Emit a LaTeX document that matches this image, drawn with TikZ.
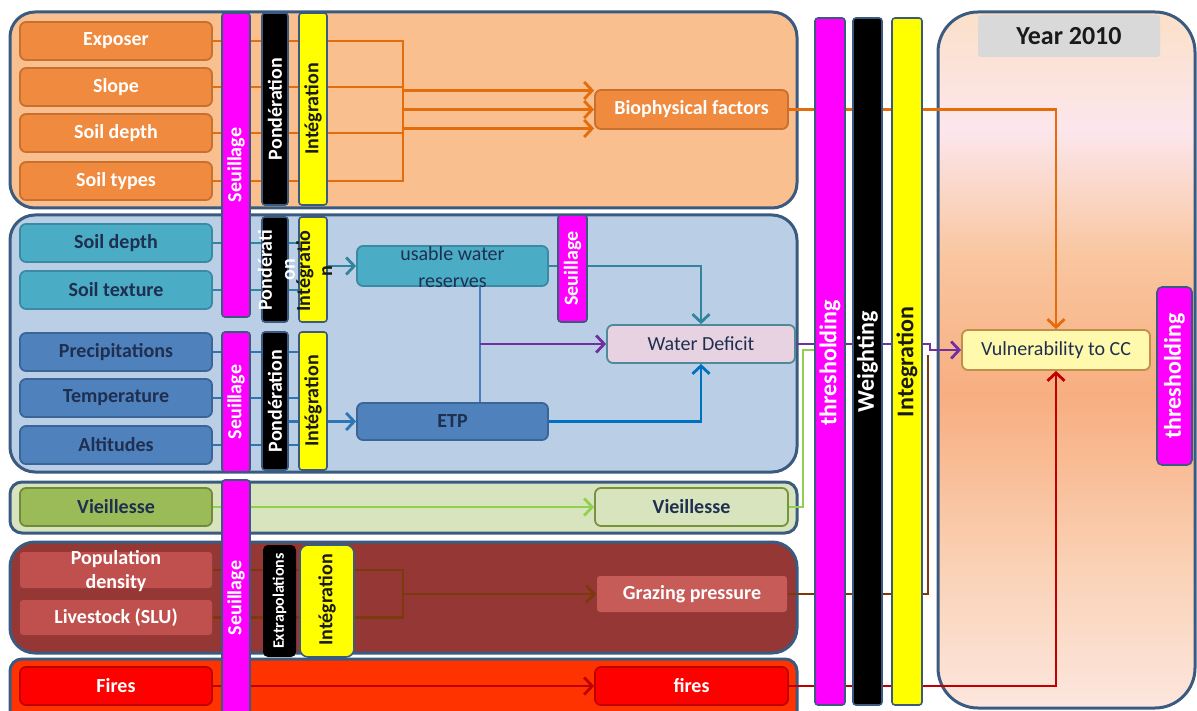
\documentclass[tikz,border=0pt]{standalone}
\usepackage{fontspec}
\setmainfont{Carlito}
\usetikzlibrary{arrows.meta,calc}
\definecolor{pborder}{HTML}{3B5A80}
\definecolor{panOr}{HTML}{F9BF8F}
\definecolor{panBl}{HTML}{BACFE6}
\definecolor{panGr}{HTML}{D7E4BD}
\definecolor{panRd}{HTML}{953735}
\definecolor{panFi}{HTML}{FF3300}
\definecolor{boxOr}{HTML}{F08A3E}
\definecolor{brdOr}{HTML}{C8702E}
\definecolor{boxTe}{HTML}{4BACC6}
\definecolor{brdTe}{HTML}{3A8AA3}
\definecolor{boxBl}{HTML}{4F81BD}
\definecolor{brdBl}{HTML}{3A6596}
\definecolor{boxGr}{HTML}{9BBB59}
\definecolor{brdGr}{HTML}{6F8B3A}
\definecolor{brdGrB}{HTML}{77933C}
\definecolor{boxRd}{HTML}{C0504D}
\definecolor{boxGz}{HTML}{C65B58}
\definecolor{boxFi}{HTML}{FF0000}
\definecolor{brdFi}{HTML}{C00000}
\definecolor{boxWd}{HTML}{E6D2E0}
\definecolor{brdWd}{HTML}{4E8A99}
\definecolor{boxVu}{HTML}{FFF9AE}
\definecolor{brdVu}{HTML}{C0904A}
\definecolor{boxYr}{HTML}{D9D9D9}
\definecolor{txDk}{HTML}{1F2F4F}
\definecolor{txBk}{HTML}{1A1A1A}
\definecolor{mag}{HTML}{FF00FF}
\definecolor{yel}{HTML}{FFFF00}
\definecolor{cOr}{HTML}{E46C0A}
\definecolor{cTe}{HTML}{31859C}
\definecolor{cBl}{HTML}{2E75B6}
\definecolor{cSt}{HTML}{4A7EBB}
\definecolor{cPu}{HTML}{7030A0}
\definecolor{cBb}{HTML}{0070C0}
\definecolor{cGr}{HTML}{92D050}
\definecolor{cBr}{HTML}{7A3A0E}
\definecolor{cRd}{HTML}{C00000}
\definecolor{ysA}{HTML}{FCE6DE}
\definecolor{ysB}{HTML}{FAD2B6}
\definecolor{ysC}{HTML}{F8AE80}
\definecolor{ysD}{HTML}{F9C6A0}
\definecolor{ysE}{HTML}{FCE6EC}
\definecolor{ysF}{HTML}{FBE0C8}
\pgfdeclareverticalshading{yearsh}{100bp}{color(0bp)=(ysA); color(25bp)=(ysA); color(35bp)=(ysB); color(47.5bp)=(ysC); color(57.5bp)=(ysD); color(66.5bp)=(ysE); color(75bp)=(ysF); color(100bp)=(ysF)}
\pgfdeclarelayer{bg}
\pgfdeclarelayer{lines}
\pgfsetlayers{bg,lines,main}
\begin{document}
\begin{tikzpicture}[x=1pt,y=1pt,font=\bfseries\fontsize{20}{24}\selectfont,
  box/.style={rounded corners=6pt,line width=1.8pt,minimum width=192pt,minimum height=38pt,inner sep=0pt,align=center},
  bar/.style={rounded corners=3pt,draw=pborder,line width=1.6pt,inner sep=0pt},
  vt/.style={rotate=90,inner sep=0pt,align=center},
  panel/.style={draw=pborder,line width=3pt,rounded corners=25pt},
  conn/.style={line width=2.8pt},
  arr/.style={conn,-{Straight Barb[length=8pt,width=17pt]}},
  big/.style={font=\bfseries\fontsize{24}{28}\selectfont},
  huge/.style={font=\bfseries\fontsize{26}{30}\selectfont},
  reg/.style={font=\fontsize{20}{27}\selectfont}]
\useasboundingbox (0,0) rectangle (1197,-711);

% ---------- nodes ----------
% biophysical
\node[box,fill=boxOr,draw=brdOr,text=white] (exp) at (116,-41) {Exposer};
\node[box,fill=boxOr,draw=brdOr,text=white] (slo) at (116,-87) {Slope};
\node[box,fill=boxOr,draw=brdOr,text=white] (sd1) at (116,-133) {Soil depth};
\node[box,fill=boxOr,draw=brdOr,text=white] (sty) at (116,-181) {Soil types};
\node[box,fill=boxOr,draw=brdOr,text=white,minimum width=193pt,minimum height=39pt] (bio) at (691.5,-109.5) {Biophysical factors};
% water
\node[box,fill=boxTe,draw=brdTe,text=txDk] (sd2) at (116,-243) {Soil depth};
\node[box,fill=boxTe,draw=brdTe,text=txDk] (stx) at (116,-290) {Soil texture};
\node[box,fill=boxBl,draw=brdBl,text=txDk] (pre) at (116,-352) {Precipitations};
\node[box,fill=boxBl,draw=brdBl,text=txDk] (tem) at (116,-398) {Temperature};
\node[box,fill=boxBl,draw=brdBl,text=txDk] (alt) at (116,-445) {Altitudes};
\node[box,fill=boxTe,draw=brdTe,minimum width=191pt,minimum height=40pt] (uwr) at (452.5,-266) {};
\node[reg,text=txDk,align=center,inner sep=0pt] (uwrT) at (452.5,-267) {usable water\\reserves};
\node[box,fill=boxBl,draw=brdBl,text=txDk,minimum width=191pt,minimum height=37pt] (etp) at (452.5,-421.5) {ETP};
\node[box,reg,fill=boxWd,draw=brdWd,text=txDk,minimum width=188pt] (wd) at (701,-344) {Water Deficit};
% vieillesse
\node[box,fill=boxGr,draw=brdGr,text=txDk] (vie) at (116,-507) {Vieillesse};
\node[box,fill=panGr,draw=brdGrB,text=txDk,minimum width=193pt] (vieB) at (691.5,-507) {Vieillesse};
% grazing
\node[box,fill=boxRd,minimum height=36pt,rounded corners=3pt] (pop) at (116,-570) {};
\node[text=white,align=center,inner sep=0pt] (popT) at (116,-571) {Population\\density};
\node[box,fill=boxRd,text=white,minimum height=35pt,rounded corners=3pt] (live) at (116,-617.5) {Livestock (SLU)};
\node[box,fill=boxGz,text=white,minimum width=190pt,minimum height=36pt,rounded corners=3pt] (graz) at (692,-594) {Grazing pressure};
% fires
\node[box,fill=boxFi,draw=brdFi,text=white] (fire) at (116,-686) {Fires};
\node[box,fill=boxFi,draw=brdFi,text=white,minimum width=193pt] (fireB) at (691.5,-686) {fires};
% result
\node[box,reg,fill=boxVu,draw=brdVu,text=txDk,minimum width=188pt,minimum height=40pt] (vul) at (1056,-350) {Vulnerability to CC};
\node[box,huge,fill=boxYr,text=txBk,minimum width=182pt,minimum height=42pt,rounded corners=3pt] (year) at (1069,-36) {Year 2010};

% ---------- bars ----------
\node[bar,fill=mag,minimum width=28pt,minimum height=304pt] (seuA) at (236,-165) {};
\node[vt,text=white] (seuAT) at (236,-165) {Seuillage};
\node[bar,fill=black,minimum width=26pt,minimum height=192pt] (ponA) at (275,-109) {};
\node[vt,text=white] (ponAT) at (275,-109) {Pondération};
\node[bar,fill=yel,minimum width=28pt,minimum height=192pt] (intA) at (313,-109) {};
\node[vt,text=txBk] (intAT) at (313,-109) {Intégration};

\node[bar,fill=black,minimum width=26pt,minimum height=105pt] (ponB) at (275,-269.5) {};
\node[vt,text=white,font=\bfseries\fontsize{20}{23}\selectfont] (ponBT) at (276.5,-270) {Pondérati\\on};
\node[bar,fill=yel,minimum width=28pt,minimum height=105pt] (intB) at (313,-269.5) {};
\node[vt,text=txBk,font=\bfseries\fontsize{20}{22}\selectfont] (intBT) at (314,-271) {Intégratio\\n};

\node[bar,fill=mag,minimum width=28pt,minimum height=140pt] (seuB) at (236,-402) {};
\node[vt,text=white] (seuBT) at (236,-402) {Seuillage};
\node[bar,fill=black,minimum width=26pt,minimum height=138pt] (ponC) at (275,-401) {};
\node[vt,text=white] (ponCT) at (275,-401) {Pondération};
\node[bar,fill=yel,minimum width=28pt,minimum height=138pt] (intC) at (313,-401) {};
\node[vt,text=txBk] (intCT) at (313,-401) {Intégration};

\node[bar,fill=mag,minimum width=29pt,minimum height=107pt] (seuD) at (572.5,-268.5) {};
\node[vt,text=white] (seuDT) at (572.5,-268.5) {Seuillage};

\node[bar,fill=mag,minimum width=28pt,minimum height=240pt] (seuC) at (236,-600) {};
\node[vt,text=white] (seuCT) at (236,-598) {Seuillage};
\node[bar,fill=black,minimum width=33pt,minimum height=112pt,rounded corners=5pt,draw=none] (ext) at (279.5,-601) {};
\node[vt,text=white,font=\bfseries\fontsize{16}{18}\selectfont] (extT) at (279.5,-601) {Extrapolations};
\node[bar,fill=yel,minimum width=54pt,minimum height=112pt,rounded corners=8pt] (intD) at (327,-601) {};
\node[vt,text=txBk] (intDT) at (327,-600) {Intégration};

\node[bar,fill=mag,minimum width=30pt,minimum height=687pt] (thr) at (830,-361.5) {};
\node[vt,big,text=white] (thrT) at (830,-363) {thresholding};
\node[bar,fill=black,minimum width=29pt,minimum height=687pt] (wei) at (867.5,-361.5) {};
\node[vt,big,text=white] (weiT) at (867.5,-362) {Weighting};
\node[bar,fill=yel,minimum width=30pt,minimum height=687pt] (intE) at (907,-361.5) {};
\node[vt,big,text=txBk] (intET) at (907,-362) {Integration};
\node[bar,fill=mag,minimum width=35pt,minimum height=178pt,rounded corners=5pt] (thrB) at (1174.5,-376) {};
\node[vt,big,text=white] (thrBT) at (1174.5,-376) {thresholding};

% ---------- helper coordinates ----------
\coordinate (cA) at (403,0);
\coordinate (cP) at (300,0);
\coordinate (cI) at (324,0);
\coordinate (cQ) at (276,0);
\coordinate (cV) at (480,0);
\coordinate (cW) at (930,0);
\coordinate (cB) at (928,0);
\coordinate (gUp) at (803,-350);
\coordinate (gEnd) at (822,-350);
\coordinate (bTop) at (928,-355);

% ---------- panels ----------
\begin{pgfonlayer}{bg}
\draw[panel,fill=panOr] (10,-12) rectangle (797,-208);
\draw[panel,fill=panBl] (10,-215) rectangle (797,-472);
\draw[panel,fill=panGr,rounded corners=12pt] (10,-482) rectangle (797,-533);
\draw[panel,fill=panRd] (10,-542) rectangle (797,-653);
\draw[panel,fill=panFi,rounded corners=12pt] (10,-659) rectangle (797,-730);
\shadedraw[shading=yearsh,draw=pborder,line width=3pt,rounded corners=40pt] (938,-12) rectangle (1195,-708);
\end{pgfonlayer}

% ---------- connectors ----------
\begin{pgfonlayer}{lines}
\foreach \n in {exp,slo,sd1,sty}{\draw[conn,cOr] (\n.east) -- (\n.east -| cA);}
\draw[conn,cOr,line cap=rect] (cA |- exp.east) -- (cA |- sty.east);
\draw[arr,cOr] ($(cA |- bio.west)+(0,19)$) -- ($(bio.west)+(0,19)$);
\draw[arr,cOr] (cA |- bio.west) -- (bio.west);
\draw[arr,cOr] ($(cA |- bio.west)+(0,-19)$) -- ($(bio.west)+(0,-19)$);
\draw[arr,cOr] (bio.east) -| (vul.north);

\foreach \n in {sd2,stx}{\draw[conn,cTe] (\n.east) -- (\n.east -| cP);}
\draw[arr,cTe] (cI |- uwr.west) -- (uwr.west);
\foreach \n in {pre,tem,alt}{\draw[conn,cBl] (\n.east) -- (\n.east -| cP);}
\draw[arr,cBl] (cQ |- etp.west) -- (etp.west);
\draw[arr,cTe] (uwr.east) -| (wd.north);
\draw[conn,cSt] (cV |- uwr.south) -- (cV |- etp.north);
\draw[arr,cPu] (cV |- wd.west) -- (wd.west);
\draw[arr,cBb] (etp.east) -| (wd.south);
\draw[arr,cPu] (wd.east) -- (cW |- wd.east) |- (vul.west);

\draw[arr,cGr] (vie.east) -- (vieB.west);
\draw[conn,cGr] (vieB.east) -| (gUp) -- (gEnd);

\draw[conn,cBr] (pop.east) -- (pop.east -| cA);
\draw[conn,cBr] (live.east) -- (live.east -| cA);
\draw[conn,cBr,line cap=rect] (cA |- pop.east) -- (cA |- live.east);
\draw[arr,cBr] (cA |- graz.west) -- (graz.west);
\draw[conn,cBr] (graz.east) -| (bTop);

\draw[arr,cRd] (fire.east) -- (fireB.west);
\draw[arr,cRd] (fireB.east) -| (vul.south);
\end{pgfonlayer}
\end{tikzpicture}
\end{document}
